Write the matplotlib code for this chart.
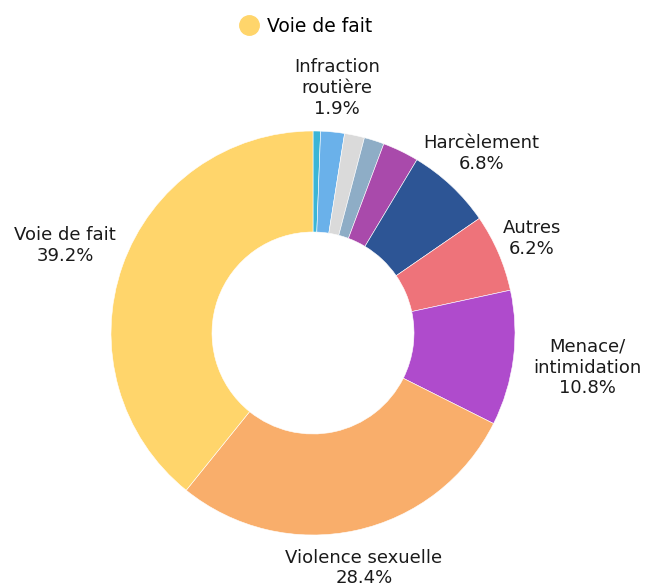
import numpy as np
import matplotlib
matplotlib.use("Agg")
import matplotlib.pyplot as plt
from matplotlib.lines import Line2D

plt.rcParams['font.family'] = ['DejaVu Sans']

categories = ['Autre 1', 'Infraction\nroutière', 'Autre 2', 'Autre 3', 'Autre 4',
              'Harcèlement', 'Autres', 'Menace/\nintimidation', 'Violence sexuelle', 'Voie de fait']
values = [0.6, 1.9, 1.6, 1.6, 2.9, 6.8, 6.2, 10.8, 28.4, 39.2]
show_label = [False, True, False, False, False, True, True, True, True, True]
colors = ['#3bb5d6', '#6ab1ea', '#dadada', '#8eadc6', '#a94aab',
          '#2d5595', '#ee737a', '#af4bcc', '#f9ae6b', '#ffd56b']
label_dist = [1.2, 1.22, 1.2, 1.2, 1.2, 1.22, 1.18, 1.37, 1.19, 1.3]

fig = plt.figure(figsize=(6.48, 5.88), dpi=100)
W, H = 648, 588
cx, cy, R = 313, 333, 202
ax = fig.add_axes([(cx - R) / W, (H - cy - R) / H, 2 * R / W, 2 * R / H])

wedges, _ = ax.pie(values, colors=colors, startangle=90, counterclock=False, radius=1,
                   wedgeprops=dict(width=0.5, edgecolor='white', linewidth=0.4))
ax.set_xlim(-1, 1)
ax.set_ylim(-1, 1)
ax.axis('off')

for w, lab, v, show, d in zip(wedges, categories, values, show_label, label_dist):
    if not show:
        continue
    th = np.deg2rad((w.theta1 + w.theta2) / 2)
    ax.text(d * np.cos(th), d * np.sin(th), f"{lab}\n{v:.1f}%", ha='center', va='center',
            fontsize=13, color='#1a1a1a', linespacing=1.2)

h = Line2D([], [], marker='o', linestyle='none', markersize=14,
           markerfacecolor=colors[-1], markeredgecolor=colors[-1])
fig.legend([h], ['Voie de fait'], loc='upper center', bbox_to_anchor=(306 / W, 1.0),
           frameon=False, fontsize=13.5, handlelength=1.0, handletextpad=0.5)

fig.savefig('out.png', dpi=100)
